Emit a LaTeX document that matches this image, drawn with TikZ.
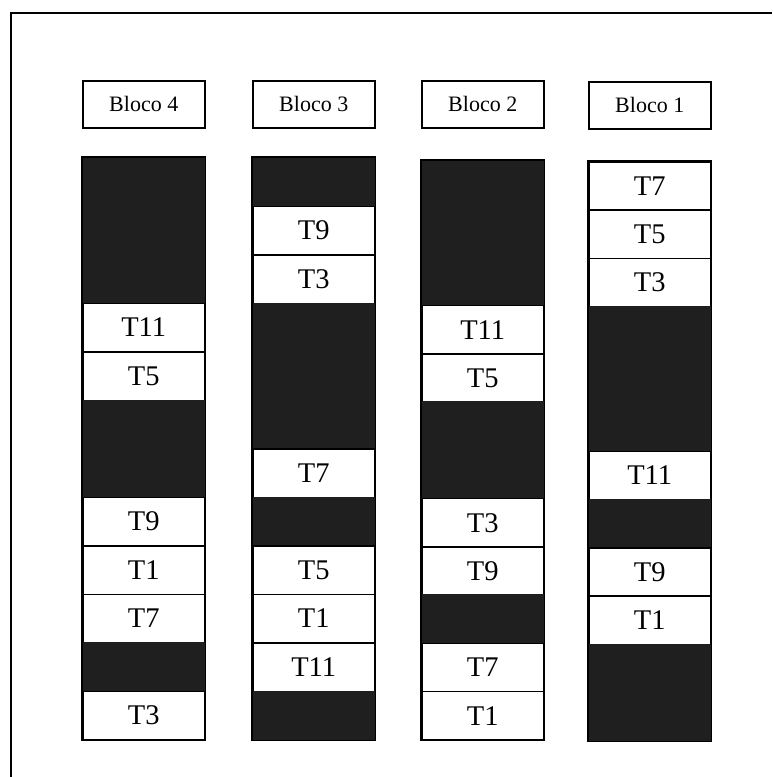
\documentclass[tikz,border=0pt]{standalone}
\usepackage{fontspec}
\setmainfont{Liberation Serif}
\begin{document}
\begin{tikzpicture}[x=1pt,y=-1pt,
  frame/.style={line width=1.8pt},
  head/.style={draw, line width=1.5pt, minimum width=122pt, minimum height=47pt,
    inner sep=0pt, anchor=north west, font=\fontsize{22}{25}\selectfont},
  cell/.style={line width=1.5pt, inner sep=0pt, anchor=north west,
    minimum width=122pt, text depth=0pt, font=\fontsize{28.5}{31}\selectfont},
  light/.style={cell, draw, fill=white},
  dark/.style={cell, draw=black!88, fill=black!88},
  column/.style={line width=1.5pt}]
\useasboundingbox (0,0) rectangle (772,777);

% open frame: top and left edges only
\draw[frame] (11,777) -- (11,13) -- (772,13);

% column headings
\node[head] (h4) at (82,80)  {Bloco 4};
\node[head] (h3) at (252,80) {Bloco 3};
\node[head] (h2) at (421,80) {Bloco 2};
\node[head] (h1) at (588,81) {Bloco 1};

% Bloco 4
\foreach \sty/\lab [count=\i from 0] in
  {dark/{},dark/{},dark/{},light/T11,light/T5,dark/{},dark/{},light/T9,light/T1,light/T7,dark/{},light/T3}
  \node[\sty, minimum height=48.5pt] (b4-\i) at (82,157+\i*48.5) {\lab};

% Bloco 3
\foreach \sty/\lab [count=\i from 0] in
  {dark/{},light/T9,light/T3,dark/{},dark/{},dark/{},light/T7,dark/{},light/T5,light/T1,light/T11,dark/{}}
  \node[\sty, minimum height=48.5pt] (b3-\i) at (252,157+\i*48.5) {\lab};

% Bloco 2
\foreach \sty/\lab [count=\i from 0] in
  {dark/{},dark/{},dark/{},light/T11,light/T5,dark/{},dark/{},light/T3,light/T9,dark/{},light/T7,light/T1}
  \node[\sty, minimum height=48.25pt] (b2-\i) at (421,160+\i*48.25) {\lab};

% Bloco 1
\foreach \sty/\lab [count=\i from 0] in
  {light/T7,light/T5,light/T3,dark/{},dark/{},dark/{},light/T11,dark/{},light/T9,light/T1,dark/{},dark/{}}
  \node[\sty, minimum height=48.25pt] (b1-\i) at (588,161+\i*48.25) {\lab};

% outlines of the four columns
\foreach \c in {1,2,3,4}
  \draw[column] (b\c-0.north west) rectangle (b\c-11.south east);
\end{tikzpicture}
\end{document}
